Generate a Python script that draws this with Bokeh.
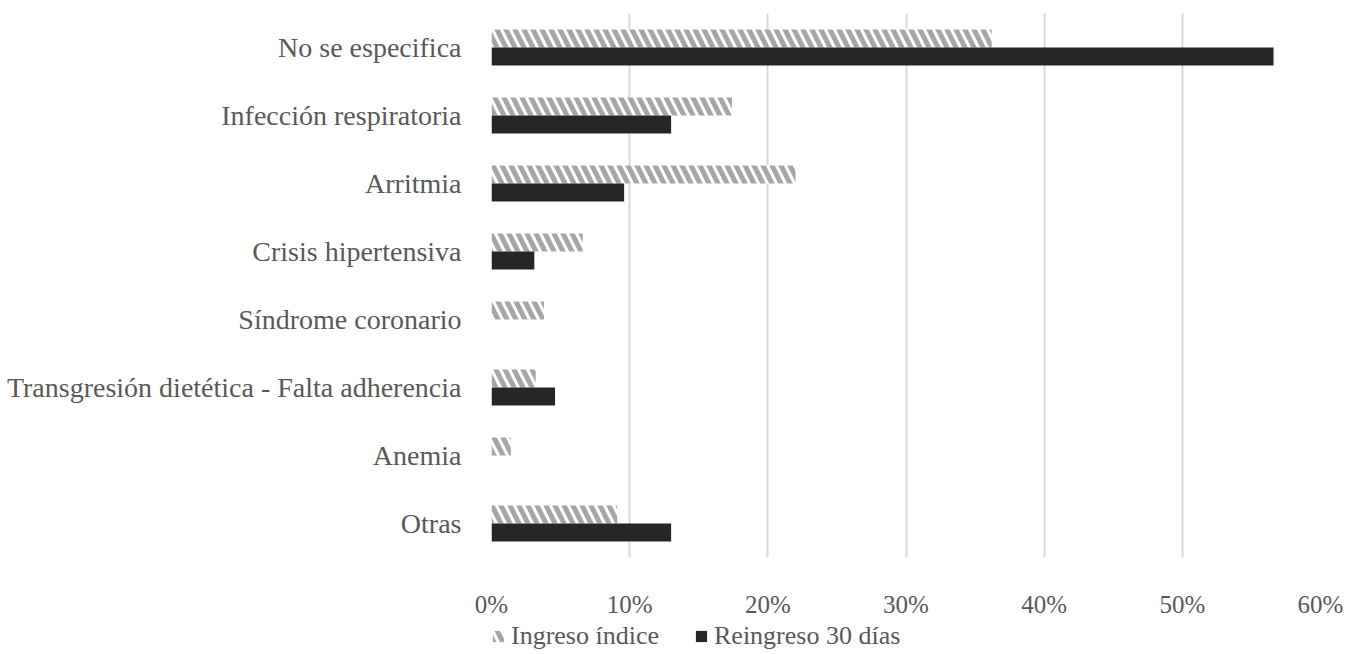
from bokeh.plotting import figure
from bokeh.layouts import column
from bokeh.models import FactorRange, Range1d, NumeralTickFormatter, Legend, LegendItem, ColumnDataSource, FixedTicker
from bokeh.transform import dodge
from bokeh.embed import file_html
from bokeh.resources import INLINE

# Causes of decompensation, as share of admissions
causes = [
    "No se especifica",
    "Infección respiratoria",
    "Arritmia",
    "Crisis hipertensiva",
    "Síndrome coronario",
    "Transgresión dietética - Falta adherencia",
    "Anemia",
    "Otras",
]
ingreso_indice = [0.362, 0.174, 0.220, 0.066, 0.038, 0.032, 0.014, 0.091]
reingreso_30 = [0.566, 0.130, 0.096, 0.031, 0.0, 0.046, 0.0, 0.130]
series_names = ["Ingreso índice", "Reingreso 30 días"]
x_ticks = [0, 0.1, 0.2, 0.3, 0.4, 0.5, 0.6]

SERIF = "Liberation Serif"
HATCH = dict(fill_color="white", line_color=None, hatch_pattern="\\",
             hatch_color="#A6A6A6", hatch_scale=18, hatch_weight=5)
SOLID = dict(fill_color="#262626", line_color=None)

source = ColumnDataSource(dict(cause=causes, idx=ingreso_indice, re30=reingreso_30))

p = figure(
    width=1349, height=620,
    y_range=FactorRange(factors=causes[::-1]),
    x_range=Range1d(0, 0.6),
    output_backend="svg", toolbar_location=None,
    min_border_left=491, min_border_right=29, min_border_top=13, min_border_bottom=60,
)
p.outline_line_color = None
p.background_fill_color = "white"
p.border_fill_color = "white"

bar_h = 0.263
p.hbar(y=dodge("cause", 0.1315, range=p.y_range), right="idx", left=0,
       height=bar_h, source=source, **HATCH)
p.hbar(y=dodge("cause", -0.1315, range=p.y_range), right="re30", left=0,
       height=bar_h, source=source, **SOLID)

# axes
p.xaxis.ticker = FixedTicker(ticks=x_ticks)
p.xaxis.formatter = NumeralTickFormatter(format="0%")
p.xaxis.axis_line_color = None
p.xaxis.major_tick_line_color = None
p.xaxis.minor_tick_line_color = None
p.xaxis.major_label_text_font = SERIF
p.xaxis.major_label_text_font_size = "25px"
p.xaxis.major_label_text_color = "#595959"
p.xaxis.major_label_standoff = 27

p.yaxis.axis_line_color = None
p.yaxis.major_tick_line_color = None
p.yaxis.minor_tick_line_color = None
p.yaxis.major_label_text_font = SERIF
p.yaxis.major_label_text_font_size = "28px"
p.yaxis.major_label_text_color = "#595959"
p.yaxis.major_label_standoff = 24

p.xgrid.grid_line_color = "#D9D9D9"
p.xgrid.grid_line_width = 2
p.ygrid.grid_line_color = None

# legend strip under the chart; its swatch glyphs sit outside the visible range
lg = figure(width=1349, height=34, output_backend="svg", toolbar_location=None,
            x_range=Range1d(0, 1), y_range=Range1d(0, 1),
            min_border_left=0, min_border_right=0, min_border_top=0, min_border_bottom=0)
lg.axis.visible = False
lg.grid.visible = False
lg.outline_line_color = None
lg.border_fill_color = "white"
swatch = ColumnDataSource(dict(y=[-5], right=[-5]))
g1 = lg.hbar(y="y", right="right", left=-6, height=0.1, source=swatch, **HATCH)
g2 = lg.hbar(y="y", right="right", left=-6, height=0.1, source=swatch, **SOLID)

legend = Legend(
    items=[LegendItem(label=series_names[0], renderers=[g1]),
           LegendItem(label=series_names[1], renderers=[g2])],
    orientation="horizontal",
    location=(0, 3),
    label_text_font=SERIF,
    label_text_font_style="normal",
    label_text_font_size="26px",
    label_text_color="#595959",
    label_height=20,
    glyph_width=14, glyph_height=14,
    label_standoff=6, spacing=35,
    border_line_color=None, background_fill_alpha=0,
    padding=0, margin=0,
)
lg.add_layout(legend, "center")

layout = column(p, lg, spacing=0)
open("out.html", "w").write(file_html(layout, INLINE))
